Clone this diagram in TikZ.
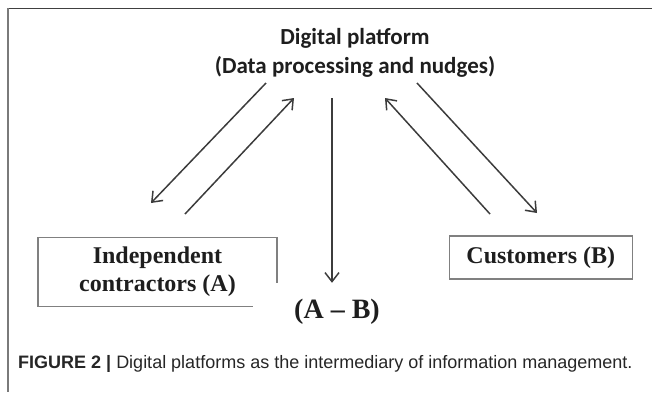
\documentclass[tikz,border=0pt]{standalone}
\usepackage{fontspec}
\setmainfont{Liberation Serif}
\newfontfamily\titlefont{Carlito}
\newfontfamily\captionfont{Liberation Sans}
\usetikzlibrary{arrows.meta}
\definecolor{frameDark}{HTML}{404040}
\definecolor{frameGray}{HTML}{7A7A7A}
\definecolor{boxGray}{HTML}{808080}
\definecolor{arrowGray}{HTML}{3C3C3C}
\definecolor{textDark}{HTML}{1E1E1E}
\begin{document}
\begin{tikzpicture}
[x=1pt,y=-1pt,
  arrowDecorate/.style={-{Straight Barb[length=9pt,width=14pt]},line width=1.5pt,draw=arrowGray},
  boxDecorate/.style={shape=rectangle,draw=boxGray,line width=1.5pt,inner sep=0pt,align=center,
    text=textDark,font=\bfseries\fontsize{24}{28}\selectfont},
  titleDecorate/.style={align=center,text=textDark,font=\titlefont\bfseries\fontsize{23}{28.6}\selectfont},
  pairDecorate/.style={fill=white,inner sep=0pt,minimum width=168pt,minimum height=58pt,
    text=textDark,font=\bfseries\fontsize{28}{32}\selectfont},
  captionDecorate/.style={anchor=base west,inner sep=0pt,text=black!85,
    font=\captionfont\fontsize{18}{22}\selectfont}]
\useasboundingbox (0,0) rectangle (652,392);
%% frame
\draw[frameDark,line width=1.3pt] (7,8.5) -- (652,8.5);
\draw[frameGray,line width=2pt] (7.5,8) -- (7.5,392);
%% nodes
\node (platform) at (355,53) [titleDecorate] {Digital platform\\(Data processing and nudges)};
\node (contractors) at (157.5,272) [boxDecorate,minimum width=239pt,minimum height=69pt]
  {Independent\\contractors (A)};
\node (customers) at (540.8,257.4) [boxDecorate,minimum width=183pt,minimum height=43pt]
  {Customers (B)};
\node (pair) at (337,312) [pairDecorate] {(A \textendash{} B)};
\node (caption) at (18,368.5) [captionDecorate]
  {\textbf{FIGURE 2 |} Digital platforms as the intermediary of information management.};
%% arrow ends
\foreach \pointname/\x/\y in {
  p1/266/83, c1/151/203, c2/185/214, p2/294/98,
  p3/332/98, p4/385/98, b1/490/214, b2/537/213, p5/417/83}
{
  \coordinate (\pointname) at (\x,\y);
}
%% arrows
\path
\foreach \startnode/\endnode in {
  p1/c1, c2/p2, b1/p4, p5/b2}
{
  (\startnode) edge[arrowDecorate] (\endnode)
};
\draw[arrowDecorate] (p3) -- (p3 |- pair.north);
\end{tikzpicture}
\end{document}
